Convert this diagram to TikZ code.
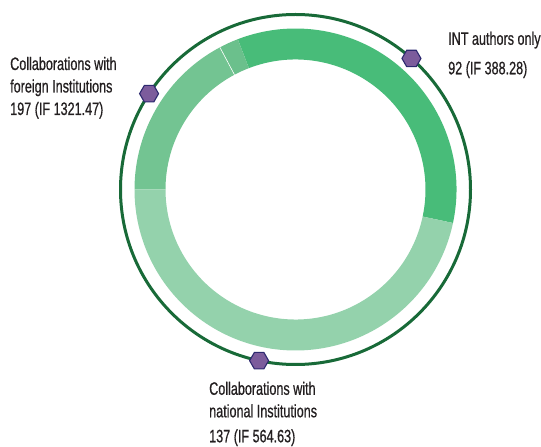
\documentclass[tikz,border=0pt]{standalone}
\usepackage{fontspec}
\setmainfont{Liberation Sans}[FakeStretch=0.70, FakeBold=0.6]
\usetikzlibrary{shapes.geometric, positioning}
\definecolor{segint}{RGB}{72,188,121}
\definecolor{segforeign}{RGB}{115,196,146}
\definecolor{segpatch}{RGB}{107,192,140}
\definecolor{segnational}{RGB}{148,210,172}
\definecolor{circleline}{RGB}{24,106,56}
\definecolor{hexfill}{RGB}{124,92,156}
\definecolor{hexline}{RGB}{45,42,112}
\definecolor{textgray}{RGB}{35,31,32}
\tikzset{
	x=1pt, y=1pt, % one unit is one pixel of the image
	marker/.style={regular polygon, regular polygon sides=6, draw=hexline, fill=hexfill, line width=1.1pt, minimum size=19pt, inner sep=0pt}, % hexagons on the circle
	legendtext/.style={align=left, anchor=base west, text=textgray, inner sep=0pt, font=\fontsize{18}{22.5}\selectfont}, % the three labels, placed at the last baseline
}
\newcommand{\ringpart}[3]{\fill[#3] (#1:161) arc[start angle=#1, end angle=#2, radius=161] -- (#2:130) arc[start angle=#2, end angle=#1, radius=130] -- cycle;}

\begin{document}
\begin{tikzpicture}
	\useasboundingbox (0,0) rectangle (541,447);
	\begin{scope}[shift={(295.5,257.5)}]
		\coordinate (c) at (0,0);
		% the ring
		\ringpart{-12}{111}{segint}
		\ringpart{111}{118}{segpatch}
		\ringpart{118}{180}{segforeign}
		\ringpart{180}{348}{segnational}
		\draw[white, line width=0.6pt] (118:130) -- (118:161);
		% outer circle
		\draw[circleline, line width=3pt] (c) circle[radius=175];
		% markers
		\node[marker] (mint) at (48.5:175) {};
		\node[marker] (mforeign) at (146.8:175) {};
		\node[marker] (mnational) at (258:175) {};
	\end{scope}
	\node[legendtext] (lint) at (448,372.7) {INT authors only\\[7pt]92 (IF 388.28)};
	\node[legendtext] (lforeign) at (10,332) {Collaborations with\\foreign Institutions\\197 (IF 1321.47)};
	\node[legendtext] (lnational) at (209,4.7) {Collaborations with\\national Institutions\\[2.5pt]137 (IF 564.63)};
\end{tikzpicture}
\end{document}
